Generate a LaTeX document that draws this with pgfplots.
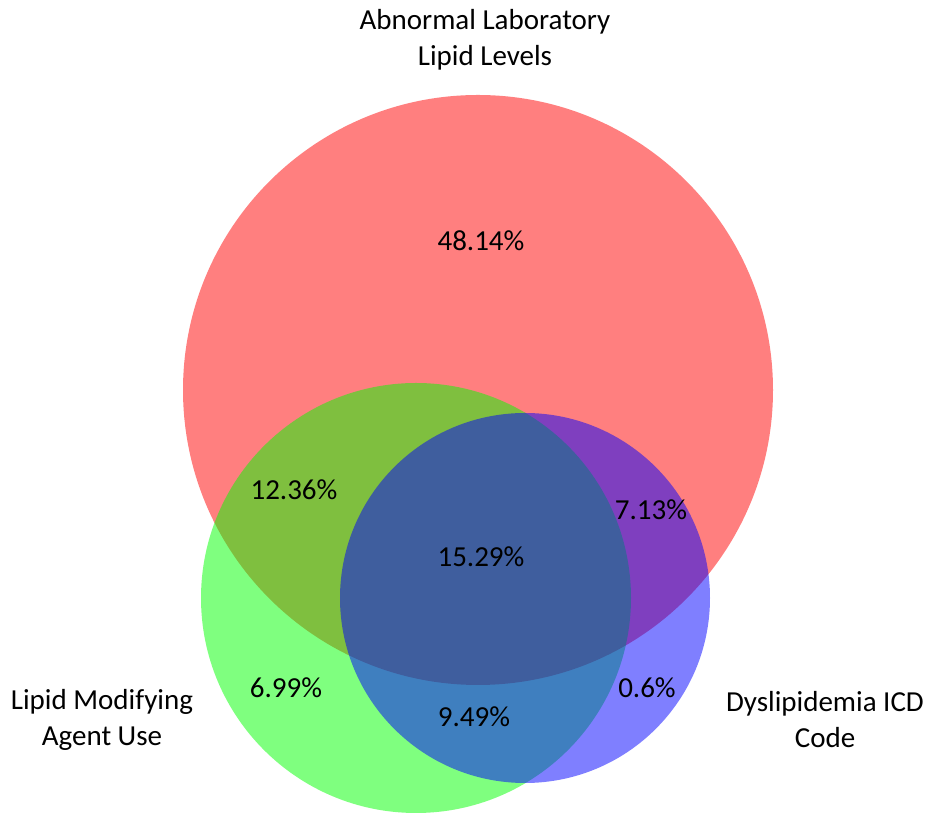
\documentclass[border=0pt]{standalone}
\usepackage{pgfplots}
\pgfplotsset{compat=1.18}
\usepackage{fontspec}
\setmainfont{Carlito}
\begin{document}
\begin{tikzpicture}
\begin{axis}[
  scale only axis, width=930pt, height=813pt,
  xmin=0, xmax=930, ymin=0, ymax=813,
  hide axis, clip=false,
]
% circles: center (x,y) in pixel coords (y up), radius
\path (axis cs:0,0) rectangle (axis cs:930,813);
\fill[red, opacity=0.5]  (axis cs:478,423) circle [radius=295];
\fill[green, opacity=0.5] (axis cs:416,215) circle [radius=215];
\fill[blue, opacity=0.5] (axis cs:525,215) circle [radius=185];
\begin{scope}[every node/.style={font=\fontsize{29}{36}\selectfont}]
\node[align=center] at (axis cs:485,773) {Abnormal Laboratory\\Lipid Levels};
\node at (axis cs:481,572) {48.14\%};
\node at (axis cs:294,323) {12.36\%};
\node at (axis cs:651,303) {7.13\%};
\node at (axis cs:481,256) {15.29\%};
\node at (axis cs:286,125) {6.99\%};
\node at (axis cs:474,96) {9.49\%};
\node at (axis cs:647,125) {0.6\%};
\node[align=center] at (axis cs:102,93) {Lipid Modifying\\Agent Use};
\node[align=center] at (axis cs:825,93) {Dyslipidemia ICD\\Code};
\end{scope}
\end{axis}
\end{tikzpicture}
\end{document}
